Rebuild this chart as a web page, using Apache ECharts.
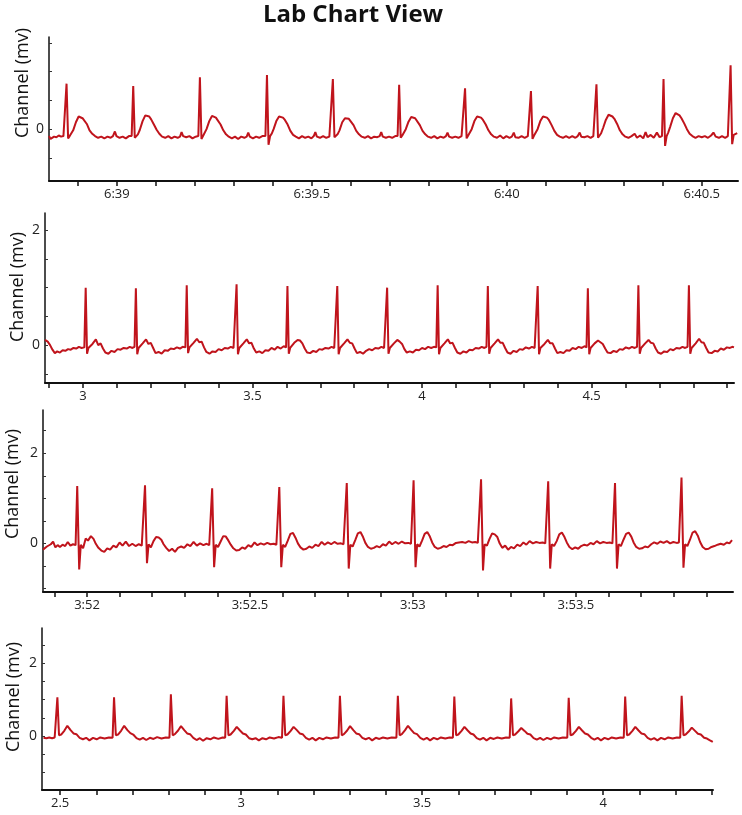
<!DOCTYPE html>
<html>
<head>
<meta charset="utf-8">
<title>Lab Chart View</title>
<script src="https://cdn.jsdelivr.net/npm/echarts@6.0.0/dist/echarts.min.js"></script>
<style>
  html, body { margin: 0; padding: 0; background: #fff; }
  #chart { width: 742px; height: 815px; }
</style>
</head>
<body>
<div id="chart"></div>
<script>
// traces, [time (s), mV]
const ecg1 = [
  [398.826,-0.12],[398.830,-0.17],[398.834,-0.20],[398.839,-0.13],[398.845,-0.14],[398.851,-0.11],[398.857,-0.13],[398.863,-0.12],[398.867,-0.11],
  [398.871,0.79],[398.875,-0.16],[398.879,-0.12],[398.883,-0.10],[398.888,-0.02],[398.895,0.12],[398.902,0.22],[398.907,0.23],[398.912,0.19],[398.917,0.17],[398.923,0.09],[398.930,-0.02],[398.937,-0.08],[398.944,-0.12],[398.952,-0.15],[398.960,-0.13],[398.968,-0.16],[398.976,-0.13],[398.984,-0.15],[398.990,-0.12],[398.995,-0.04],[398.999,-0.12],[399.007,-0.15],[399.015,-0.13],[399.023,-0.16],[399.031,-0.12],[399.038,-0.12],
  [399.042,0.75],[399.046,-0.15],[399.050,-0.12],[399.054,-0.09],[399.059,-0.01],[399.066,0.14],[399.073,0.24],[399.078,0.26],[399.083,0.22],[399.088,0.17],[399.095,0.08],[399.102,-0.01],[399.109,-0.08],[399.116,-0.13],[399.124,-0.15],[399.132,-0.12],[399.140,-0.16],[399.148,-0.13],[399.156,-0.15],[399.162,-0.13],[399.166,-0.05],[399.170,-0.12],[399.178,-0.14],[399.186,-0.12],[399.194,-0.16],[399.202,-0.13],[399.209,-0.12],
  [399.213,0.90],[399.217,-0.17],[399.221,-0.12],[399.225,-0.09],[399.230,0.00],[399.237,0.14],[399.244,0.23],[399.249,0.24],[399.254,0.20],[399.259,0.17],[399.266,0.08],[399.273,-0.02],[399.280,-0.09],[399.287,-0.13],[399.295,-0.16],[399.303,-0.13],[399.311,-0.17],[399.319,-0.13],[399.327,-0.15],[399.333,-0.13],[399.337,-0.06],[399.341,-0.13],[399.349,-0.16],[399.357,-0.13],[399.365,-0.15],[399.373,-0.12],[399.381,-0.12],
  [399.385,0.94],[399.389,-0.27],[399.393,-0.12],[399.397,-0.08],[399.402,0.00],[399.409,0.14],[399.416,0.22],[399.421,0.23],[399.426,0.20],[399.431,0.16],[399.438,0.08],[399.445,-0.03],[399.452,-0.10],[399.459,-0.13],[399.467,-0.16],[399.475,-0.12],[399.483,-0.15],[399.491,-0.13],[399.499,-0.16],[399.505,-0.12],[399.509,-0.05],[399.513,-0.13],[399.521,-0.15],[399.529,-0.12],[399.537,-0.15],[399.545,-0.13],[399.550,-0.12],
  [399.554,0.87],[399.558,-0.14],[399.562,-0.11],[399.566,-0.09],[399.571,-0.02],[399.578,0.12],[399.585,0.19],[399.590,0.20],[399.595,0.18],[399.600,0.15],[399.607,0.07],[399.614,-0.03],[399.621,-0.09],[399.628,-0.13],[399.636,-0.15],[399.644,-0.12],[399.652,-0.16],[399.660,-0.13],[399.668,-0.14],[399.674,-0.12],[399.678,-0.05],[399.682,-0.13],[399.690,-0.15],[399.698,-0.13],[399.706,-0.15],[399.714,-0.12],[399.720,-0.12],
  [399.724,0.77],[399.728,-0.15],[399.732,-0.11],[399.736,-0.08],[399.741,0.00],[399.748,0.13],[399.755,0.21],[399.760,0.22],[399.765,0.19],[399.770,0.16],[399.777,0.07],[399.784,-0.03],[399.791,-0.09],[399.798,-0.13],[399.806,-0.15],[399.814,-0.12],[399.822,-0.16],[399.830,-0.13],[399.838,-0.15],[399.844,-0.12],[399.848,-0.06],[399.852,-0.13],[399.860,-0.15],[399.868,-0.13],[399.876,-0.15],[399.884,-0.12],[399.889,-0.12],
  [399.893,0.71],[399.897,-0.16],[399.901,-0.11],[399.905,-0.08],[399.910,0.00],[399.917,0.14],[399.924,0.22],[399.929,0.23],[399.934,0.20],[399.939,0.16],[399.946,0.08],[399.953,-0.02],[399.960,-0.09],[399.967,-0.13],[399.975,-0.15],[399.983,-0.11],[399.991,-0.16],[399.999,-0.12],[400.007,-0.15],[400.013,-0.13],[400.018,-0.06],[400.022,-0.14],[400.030,-0.15],[400.038,-0.12],[400.046,-0.15],[400.054,-0.12],[400.058,-0.12],
  [400.062,0.66],[400.066,-0.17],[400.070,-0.11],[400.074,-0.08],[400.079,0.00],[400.086,0.14],[400.093,0.22],[400.098,0.23],[400.103,0.20],[400.108,0.16],[400.115,0.07],[400.122,-0.03],[400.129,-0.10],[400.136,-0.13],[400.144,-0.15],[400.152,-0.12],[400.160,-0.15],[400.168,-0.12],[400.176,-0.15],[400.182,-0.12],[400.187,-0.06],[400.191,-0.13],[400.199,-0.14],[400.207,-0.12],[400.215,-0.15],[400.222,-0.12],[400.226,-0.12],
  [400.230,0.78],[400.234,-0.15],[400.238,-0.11],[400.242,-0.07],[400.247,0.02],[400.254,0.16],[400.261,0.25],[400.266,0.26],[400.271,0.22],[400.276,0.18],[400.283,0.09],[400.290,-0.02],[400.297,-0.09],[400.304,-0.13],[400.312,-0.15],[400.320,-0.12],[400.328,-0.08],[400.334,-0.15],[400.342,-0.11],[400.350,-0.16],[400.356,-0.05],[400.361,-0.14],[400.369,-0.10],[400.377,-0.15],[400.385,-0.06],[400.392,-0.14],[400.398,-0.12],
  [400.402,0.87],[400.406,-0.29],[400.410,-0.12],[400.414,-0.06],[400.419,0.04],[400.426,0.19],[400.433,0.28],[400.438,0.29],[400.443,0.24],[400.448,0.19],[400.455,0.10],[400.462,0.00],[400.469,-0.08],[400.476,-0.12],[400.484,-0.15],[400.492,-0.12],[400.500,-0.14],[400.508,-0.12],[400.516,-0.15],[400.524,-0.11],[400.530,-0.06],[400.536,-0.13],[400.544,-0.15],[400.552,-0.12],[400.560,-0.15],[400.567,-0.12],[400.570,-0.11],
  [400.574,1.11],[400.578,-0.26],[400.582,-0.10],[400.586,-0.07],[400.591,-0.07]
];

const ecg2 = [
  [2.888,0.09],[2.896,0.06],[2.903,0.00],[2.910,-0.08],[2.917,-0.14],[2.924,-0.11],[2.932,-0.13],[2.940,-0.09],[2.948,-0.10],[2.956,-0.07],[2.964,-0.08],[2.972,-0.05],[2.980,-0.06],[2.988,-0.03],[2.996,-0.05],[3.004,-0.04],
  [3.008,1.00],[3.012,-0.15],[3.016,-0.05],[3.021,-0.08],[3.028,0.02],[3.038,0.10],[3.045,0.00],[3.052,0.03],[3.059,-0.06],[3.066,-0.13],[3.075,-0.15],[3.084,-0.10],[3.093,-0.12],[3.102,-0.07],[3.111,-0.08],[3.120,-0.05],[3.129,-0.06],[3.138,-0.03],[3.146,-0.05],[3.152,-0.03],
  [3.156,0.99],[3.160,-0.16],[3.164,-0.05],[3.169,-0.07],[3.176,0.03],[3.186,0.10],[3.193,0.02],[3.200,0.04],[3.207,-0.05],[3.214,-0.14],[3.223,-0.12],[3.232,-0.15],[3.241,-0.09],[3.250,-0.10],[3.259,-0.06],[3.268,-0.07],[3.277,-0.04],[3.286,-0.06],[3.294,-0.03],[3.302,-0.04],
  [3.306,1.04],[3.310,-0.14],[3.314,-0.04],[3.319,-0.07],[3.326,0.04],[3.336,0.11],[3.343,0.05],[3.350,0.06],[3.357,-0.04],[3.364,-0.12],[3.373,-0.15],[3.382,-0.11],[3.391,-0.12],[3.400,-0.07],[3.409,-0.09],[3.418,-0.05],[3.427,-0.06],[3.436,-0.03],[3.444,-0.05],[3.449,-0.03],
  [3.453,1.06],[3.457,-0.16],[3.461,-0.05],[3.466,-0.07],[3.473,0.03],[3.483,0.10],[3.490,0.03],[3.497,0.04],[3.504,-0.06],[3.511,-0.13],[3.520,-0.11],[3.529,-0.14],[3.538,-0.09],[3.547,-0.10],[3.556,-0.05],[3.565,-0.08],[3.574,-0.03],[3.583,-0.06],[3.592,-0.02],[3.599,-0.04],
  [3.603,1.03],[3.607,-0.15],[3.611,-0.05],[3.616,-0.06],[3.623,0.04],[3.633,0.09],[3.640,0.08],[3.647,0.03],[3.654,-0.06],[3.661,-0.13],[3.670,-0.14],[3.679,-0.10],[3.688,-0.12],[3.697,-0.07],[3.706,-0.08],[3.715,-0.05],[3.724,-0.06],[3.733,-0.03],[3.741,-0.05],[3.746,-0.03],
  [3.750,1.03],[3.754,-0.16],[3.758,-0.05],[3.763,-0.07],[3.770,0.03],[3.780,0.10],[3.787,0.04],[3.794,0.03],[3.801,-0.06],[3.808,-0.14],[3.817,-0.12],[3.826,-0.15],[3.835,-0.10],[3.844,-0.07],[3.853,-0.09],[3.862,-0.05],[3.871,-0.06],[3.880,-0.03],[3.888,-0.05],[3.893,-0.04],
  [3.897,1.00],[3.901,-0.15],[3.905,-0.05],[3.910,-0.07],[3.917,0.03],[3.927,0.09],[3.934,0.06],[3.941,0.02],[3.948,-0.07],[3.955,-0.13],[3.964,-0.11],[3.973,-0.13],[3.982,-0.08],[3.991,-0.09],[4.000,-0.05],[4.009,-0.07],[4.018,-0.03],[4.027,-0.05],[4.035,-0.03],[4.042,-0.04],
  [4.046,1.04],[4.050,-0.16],[4.054,-0.05],[4.059,-0.07],[4.066,0.03],[4.076,0.10],[4.083,0.03],[4.090,0.04],[4.097,-0.05],[4.104,-0.13],[4.113,-0.15],[4.122,-0.11],[4.131,-0.13],[4.140,-0.08],[4.149,-0.09],[4.158,-0.05],[4.167,-0.06],[4.176,-0.03],[4.184,-0.05],[4.190,-0.03],
  [4.194,1.03],[4.198,-0.15],[4.202,-0.05],[4.207,-0.06],[4.214,0.03],[4.224,0.10],[4.231,0.04],[4.238,0.04],[4.245,-0.05],[4.252,-0.13],[4.261,-0.15],[4.270,-0.10],[4.279,-0.12],[4.288,-0.07],[4.297,-0.08],[4.306,-0.04],[4.315,-0.06],[4.324,-0.03],[4.332,-0.05],[4.337,-0.03],
  [4.341,1.03],[4.345,-0.16],[4.349,-0.05],[4.354,-0.07],[4.361,0.02],[4.371,0.09],[4.378,0.03],[4.385,0.03],[4.392,-0.06],[4.399,-0.14],[4.408,-0.12],[4.417,-0.14],[4.426,-0.09],[4.435,-0.10],[4.444,-0.05],[4.453,-0.07],[4.462,-0.03],[4.471,-0.05],[4.479,-0.02],[4.485,-0.04],
  [4.489,0.99],[4.493,-0.16],[4.497,-0.05],[4.502,-0.07],[4.509,0.03],[4.519,0.08],[4.526,0.05],[4.533,0.02],[4.540,-0.06],[4.547,-0.13],[4.556,-0.14],[4.565,-0.10],[4.574,-0.12],[4.583,-0.07],[4.592,-0.08],[4.601,-0.04],[4.610,-0.06],[4.619,-0.03],[4.627,-0.05],[4.634,-0.03],
  [4.638,1.04],[4.642,-0.15],[4.646,-0.05],[4.651,-0.07],[4.658,0.03],[4.668,0.09],[4.675,0.04],[4.682,0.03],[4.689,-0.06],[4.696,-0.13],[4.705,-0.15],[4.714,-0.11],[4.723,-0.12],[4.732,-0.07],[4.741,-0.09],[4.750,-0.05],[4.759,-0.06],[4.768,-0.03],[4.776,-0.05],[4.783,-0.03],
  [4.787,1.04],[4.791,-0.15],[4.795,-0.05],[4.800,-0.07],[4.807,0.03],[4.817,0.11],[4.824,0.05],[4.831,0.04],[4.838,-0.05],[4.845,-0.13],[4.854,-0.14],[4.863,-0.10],[4.872,-0.11],[4.881,-0.06],[4.890,-0.08],[4.899,-0.04],[4.908,-0.05],[4.915,-0.03],[4.920,-0.04]
];

const ecg3 = [
  [231.865,-0.14],[231.871,-0.16],[231.877,-0.07],[231.883,-0.11],[231.889,-0.02],[231.896,0.04],[231.903,-0.09],[231.910,-0.04],[231.917,-0.08],[231.925,-0.03],[231.933,-0.06],[231.941,0.03],[231.949,-0.05],[231.957,-0.02],[231.965,-0.04],
  [231.970,1.27],[231.976,-0.58],[231.981,-0.03],[231.988,-0.11],[231.996,0.11],[232.003,0.06],[232.012,0.16],[232.020,0.10],[232.027,-0.01],[232.035,-0.10],[232.044,-0.16],[232.053,-0.19],[232.062,-0.11],[232.071,-0.14],[232.081,-0.05],[232.090,-0.09],[232.100,0.02],[232.109,-0.05],[232.119,0.04],[232.129,-0.06],[232.139,-0.01],[232.149,-0.06],[232.159,-0.02],[232.168,-0.05],[232.173,-0.03],
  [232.178,1.29],[232.184,-0.44],[232.189,-0.02],[232.196,-0.09],[232.204,0.05],[232.212,0.14],[232.220,0.13],[232.228,0.08],[232.235,-0.02],[232.243,-0.10],[232.252,-0.17],[232.261,-0.12],[232.270,-0.19],[232.279,-0.10],[232.289,-0.07],[232.298,-0.10],[232.308,-0.02],[232.317,-0.06],[232.327,0.03],[232.337,-0.05],[232.347,0.00],[232.357,-0.04],[232.367,-0.01],[232.375,-0.04],[232.380,-0.02],
  [232.384,1.22],[232.390,-0.53],[232.395,-0.03],[232.402,-0.08],[232.410,0.04],[232.418,0.16],[232.426,0.15],[232.434,0.06],[232.441,-0.03],[232.449,-0.11],[232.458,-0.16],[232.467,-0.15],[232.476,-0.09],[232.485,-0.12],[232.495,-0.04],[232.504,-0.08],[232.514,0.02],[232.523,-0.04],[232.533,0.00],[232.543,-0.03],[232.553,0.01],[232.563,-0.02],[232.573,-0.01],[232.581,-0.03],[232.586,-0.01],
  [232.590,1.25],[232.596,-0.53],[232.601,-0.03],[232.608,-0.08],[232.616,0.06],[232.624,0.21],[232.632,0.23],[232.640,0.12],[232.647,0.00],[232.655,-0.09],[232.664,-0.14],[232.673,-0.12],[232.682,-0.07],[232.691,-0.10],[232.701,-0.03],[232.710,-0.06],[232.720,0.03],[232.729,-0.03],[232.739,0.02],[232.749,-0.02],[232.759,0.03],[232.769,-0.01],[232.779,0.00],[232.787,-0.02],[232.793,-0.01],
  [232.797,1.34],[232.803,-0.56],[232.808,-0.03],[232.815,-0.07],[232.823,0.07],[232.831,0.22],[232.839,0.25],[232.847,0.14],[232.854,0.01],[232.862,-0.08],[232.871,-0.12],[232.880,-0.10],[232.889,-0.06],[232.898,-0.09],[232.908,-0.02],[232.917,-0.05],[232.927,0.04],[232.936,-0.02],[232.946,0.03],[232.956,-0.01],[232.966,0.04],[232.976,0.00],[232.986,0.01],[232.994,-0.01],[232.998,0.00],
  [233.002,1.40],[233.008,-0.53],[233.013,-0.02],[233.020,-0.07],[233.028,0.06],[233.036,0.21],[233.044,0.25],[233.052,0.15],[233.059,0.02],[233.067,-0.08],[233.076,-0.12],[233.085,-0.10],[233.094,-0.06],[233.103,-0.08],[233.113,-0.03],[233.122,-0.04],[233.132,0.01],[233.141,0.02],[233.151,0.03],[233.161,0.01],[233.171,0.05],[233.181,0.02],[233.191,0.03],[233.199,0.01],[233.205,0.02],
  [233.209,1.42],[233.215,-0.60],[233.220,-0.02],[233.227,-0.05],[233.235,0.10],[233.243,0.22],[233.251,0.20],[233.259,0.14],[233.266,0.00],[233.274,-0.10],[233.283,-0.05],[233.292,-0.14],[233.301,-0.08],[233.310,-0.11],[233.320,-0.03],[233.329,-0.06],[233.339,0.02],[233.348,-0.03],[233.358,0.05],[233.368,0.00],[233.378,0.03],[233.388,0.01],[233.398,0.02],[233.406,0.00],[233.411,0.01],
  [233.415,1.38],[233.421,-0.56],[233.426,-0.02],[233.433,-0.06],[233.441,0.05],[233.449,0.20],[233.457,0.24],[233.465,0.14],[233.472,0.02],[233.480,-0.08],[233.489,-0.13],[233.498,-0.09],[233.507,-0.12],[233.516,-0.06],[233.526,-0.03],[233.535,-0.05],[233.545,0.01],[233.554,-0.02],[233.564,0.05],[233.574,0.00],[233.584,0.03],[233.594,0.01],[233.604,0.02],[233.612,0.00],[233.617,0.01],
  [233.620,1.34],[233.626,-0.56],[233.631,-0.02],[233.638,-0.06],[233.646,0.08],[233.654,0.21],[233.662,0.24],[233.670,0.15],[233.677,0.02],[233.685,-0.08],[233.694,-0.12],[233.703,-0.11],[233.712,-0.07],[233.721,-0.09],[233.731,-0.02],[233.740,0.02],[233.750,-0.01],[233.759,0.04],[233.769,0.01],[233.779,0.05],[233.789,0.00],[233.799,0.03],[233.809,0.01],[233.816,0.02],[233.820,0.01],
  [233.824,1.46],[233.830,-0.54],[233.835,-0.02],[233.842,-0.06],[233.850,0.08],[233.858,0.24],[233.866,0.27],[233.874,0.17],[233.881,0.03],[233.889,-0.08],[233.898,-0.13],[233.907,-0.12],[233.916,-0.08],[233.925,-0.06],[233.935,-0.03],[233.944,-0.01],[233.954,-0.03],[233.963,0.02],[233.971,0.00],[233.979,0.07]
];

const ecg4 = [
  [2.454,-0.05],[2.462,-0.06],[2.470,-0.04],[2.478,-0.06],[2.485,-0.04],[2.489,-0.04],
  [2.4925,1.06],[2.497,0.02],[2.503,0.04],[2.512,0.15],[2.520,0.28],[2.529,0.16],[2.537,0.07],[2.545,0.05],[2.554,-0.05],[2.563,-0.09],[2.572,-0.05],[2.581,-0.12],[2.591,-0.05],[2.601,-0.09],[2.611,-0.04],[2.623,-0.07],[2.635,-0.04],[2.645,-0.05],
  [2.649,1.06],[2.654,0.02],[2.660,0.04],[2.669,0.15],[2.677,0.28],[2.686,0.16],[2.694,0.08],[2.702,0.04],[2.711,-0.06],[2.720,-0.10],[2.729,-0.05],[2.738,-0.11],[2.748,-0.05],[2.758,-0.08],[2.768,-0.03],[2.780,-0.07],[2.792,-0.04],[2.802,-0.05],
  [2.806,1.14],[2.811,0.02],[2.817,0.05],[2.826,0.15],[2.834,0.27],[2.843,0.16],[2.851,0.07],[2.859,0.05],[2.868,-0.05],[2.877,-0.11],[2.886,-0.06],[2.895,-0.13],[2.905,-0.06],[2.915,-0.09],[2.925,-0.04],[2.937,-0.08],[2.949,-0.04],[2.956,-0.05],
  [2.960,1.10],[2.965,0.02],[2.971,0.04],[2.980,0.14],[2.988,0.25],[2.997,0.15],[3.005,0.07],[3.013,0.04],[3.022,-0.06],[3.031,-0.09],[3.040,-0.06],[3.049,-0.12],[3.059,-0.06],[3.069,-0.09],[3.079,-0.04],[3.091,-0.07],[3.103,-0.03],[3.113,-0.05],
  [3.117,1.10],[3.122,0.02],[3.128,0.04],[3.137,0.14],[3.145,0.25],[3.154,0.16],[3.162,0.07],[3.170,0.05],[3.179,-0.05],[3.188,-0.10],[3.197,-0.05],[3.206,-0.12],[3.216,-0.05],[3.226,-0.09],[3.236,-0.04],[3.248,-0.07],[3.260,-0.04],[3.269,-0.05],
  [3.273,1.10],[3.278,0.02],[3.284,0.05],[3.293,0.15],[3.301,0.27],[3.310,0.16],[3.318,0.07],[3.326,0.05],[3.335,-0.05],[3.344,-0.09],[3.353,-0.05],[3.362,-0.12],[3.372,-0.05],[3.382,-0.08],[3.392,-0.04],[3.404,-0.07],[3.416,-0.04],[3.429,-0.05],
  [3.433,1.10],[3.438,0.02],[3.444,0.05],[3.453,0.16],[3.461,0.28],[3.470,0.17],[3.478,0.08],[3.486,0.05],[3.495,-0.05],[3.504,-0.10],[3.513,-0.05],[3.522,-0.12],[3.532,-0.05],[3.542,-0.09],[3.552,-0.04],[3.564,-0.07],[3.576,-0.04],[3.585,-0.05],
  [3.589,1.08],[3.594,0.02],[3.600,0.04],[3.609,0.14],[3.617,0.25],[3.626,0.15],[3.634,0.07],[3.642,0.04],[3.651,-0.06],[3.660,-0.10],[3.669,-0.05],[3.678,-0.12],[3.688,-0.05],[3.698,-0.08],[3.708,-0.04],[3.720,-0.07],[3.732,-0.04],[3.742,-0.05],
  [3.746,1.03],[3.751,0.02],[3.757,0.04],[3.766,0.13],[3.774,0.22],[3.783,0.14],[3.791,0.06],[3.799,0.04],[3.808,-0.06],[3.817,-0.10],[3.826,-0.05],[3.835,-0.11],[3.845,-0.05],[3.855,-0.09],[3.865,-0.04],[3.877,-0.07],[3.889,-0.04],[3.901,-0.05],
  [3.905,1.05],[3.910,0.02],[3.916,0.04],[3.925,0.14],[3.933,0.25],[3.942,0.15],[3.950,0.07],[3.958,0.04],[3.967,-0.05],[3.976,-0.10],[3.985,-0.05],[3.994,-0.12],[4.004,-0.05],[4.014,-0.09],[4.024,-0.04],[4.036,-0.07],[4.048,-0.04],[4.057,-0.05],
  [4.061,1.08],[4.066,0.02],[4.072,0.04],[4.081,0.14],[4.089,0.25],[4.098,0.15],[4.106,0.07],[4.114,0.05],[4.123,-0.05],[4.132,-0.10],[4.141,-0.06],[4.150,-0.12],[4.160,-0.05],[4.170,-0.09],[4.180,-0.04],[4.192,-0.07],[4.204,-0.04],[4.213,-0.05],
  [4.217,1.10],[4.222,0.02],[4.228,0.04],[4.237,0.13],[4.245,0.23],[4.254,0.14],[4.262,0.06],[4.270,0.04],[4.279,-0.05],[4.287,-0.07],[4.294,-0.11],[4.299,-0.09],[4.303,-0.16]
];

// tick labels
const xLabelVals1 = [399, 399.5, 400, 400.5];
const xLabels1 = ['6:39', '6:39.5', '6:40', '6:40.5'];
const xLabelVals2 = [3, 3.5, 4, 4.5];
const xLabels2 = ['3', '3.5', '4', '4.5'];
const xLabelVals3 = [232, 232.5, 233, 233.5];
const xLabels3 = ['3:52', '3:52.5', '3:53', '3:53.5'];
const xLabelVals4 = [2.5, 3, 3.5, 4];
const xLabels4 = ['2.5', '3', '3.5', '4'];
const yLabelVals1 = [0];
const yLabelVals = [0, 2];

const LINE = '#c0141c';
const FONT = '"Open Sans", "Noto Sans", sans-serif';

// minor ticks every 0.1 s / 0.5 mV
const steps = (lo, hi, step) => {
    const out = [];
    for (let v = Math.ceil(lo / step - 1e-6) * step; v <= hi + 1e-6; v += step) {
        out.push(Math.round(v * 1000) / 1000);
    }
    return out;
};

const panels = [
    { grid: { left: 49, top: 37, width: 689, height: 144 }, x: [398.826, 400.593], y: [-0.9, 1.6],
      data: ecg1, xv: xLabelVals1, xl: xLabels1, yv: yLabelVals1, name: [23, 83] },
    { grid: { left: 45, top: 213, width: 689, height: 170 }, x: [2.888, 4.920], y: [-0.66, 2.3],
      data: ecg2, xv: xLabelVals2, xl: xLabels2, yv: yLabelVals, name: [18, 287] },
    { grid: { left: 43, top: 410, width: 690, height: 182 }, x: [231.865, 233.982], y: [-1.08, 2.96],
      data: ecg3, xv: xLabelVals3, xl: xLabels3, yv: yLabelVals, name: [13, 484] },
    { grid: { left: 42, top: 628, width: 671, height: 162 }, x: [2.450, 4.3036], y: [-1.48, 2.96],
      data: ecg4, xv: xLabelVals4, xl: xLabels4, yv: yLabelVals, name: [14, 697] }
];

const myChart = echarts.init(document.getElementById('chart'), null, { renderer: 'canvas' });

const option = {
    animation: false,
    backgroundColor: '#fff',
    title: {
        text: 'Lab Chart View',
        left: 348,
        top: -2,
        textAlign: 'center',
        textStyle: { fontFamily: FONT, fontSize: 24, fontWeight: 'bold', color: '#111' }
    },
    grid: panels.map(p => p.grid),
    xAxis: panels.map((p, i) => ({
        type: 'value',
        gridIndex: i,
        min: p.x[0],
        max: p.x[1],
        splitLine: { show: false },
        axisLine: { onZero: false, lineStyle: { color: '#111', width: 2 } },
        axisTick: {
            customValues: steps(p.x[0], p.x[1], 0.1),
            length: 5,
            lineStyle: { color: '#111', width: 1.5 }
        },
        axisLabel: {
            customValues: p.xv,
            margin: 7,
            fontFamily: FONT,
            fontSize: 13,
            color: '#222',
            formatter: v => {
                const k = p.xv.findIndex(t => Math.abs(t - v) < 1e-6);
                return k < 0 ? '' : p.xl[k];
            }
        }
    })),
    yAxis: panels.map((p, i) => ({
        type: 'value',
        gridIndex: i,
        min: p.y[0],
        max: p.y[1],
        splitLine: { show: false },
        axisLine: { show: true, onZero: false, lineStyle: { color: '#111', width: 1.5 } },
        axisTick: {
            show: true,
            inside: true,
            customValues: steps(p.y[0], p.y[1], 0.5),
            length: 3,
            lineStyle: { color: '#333', width: 1 }
        },
        axisLabel: {
            customValues: p.yv,
            margin: 5,
            fontFamily: FONT,
            fontSize: 14,
            color: '#222'
        }
    })),
    series: panels.map((p, i) => ({
        type: 'line',
        xAxisIndex: i,
        yAxisIndex: i,
        data: p.data,
        showSymbol: false,
        smooth: false,
        lineStyle: { color: LINE, width: 2 }
    })),
    // rotated axis titles
    graphic: panels.map(p => ({
        type: 'text',
        x: p.name[0],
        y: p.name[1],
        rotation: Math.PI / 2,
        style: {
            text: 'Channel (mv)',
            fontFamily: FONT,
            fontSize: 18,
            fill: '#111',
            align: 'center',
            verticalAlign: 'middle'
        }
    }))
};

myChart.setOption(option);
</script>
</body>
</html>
